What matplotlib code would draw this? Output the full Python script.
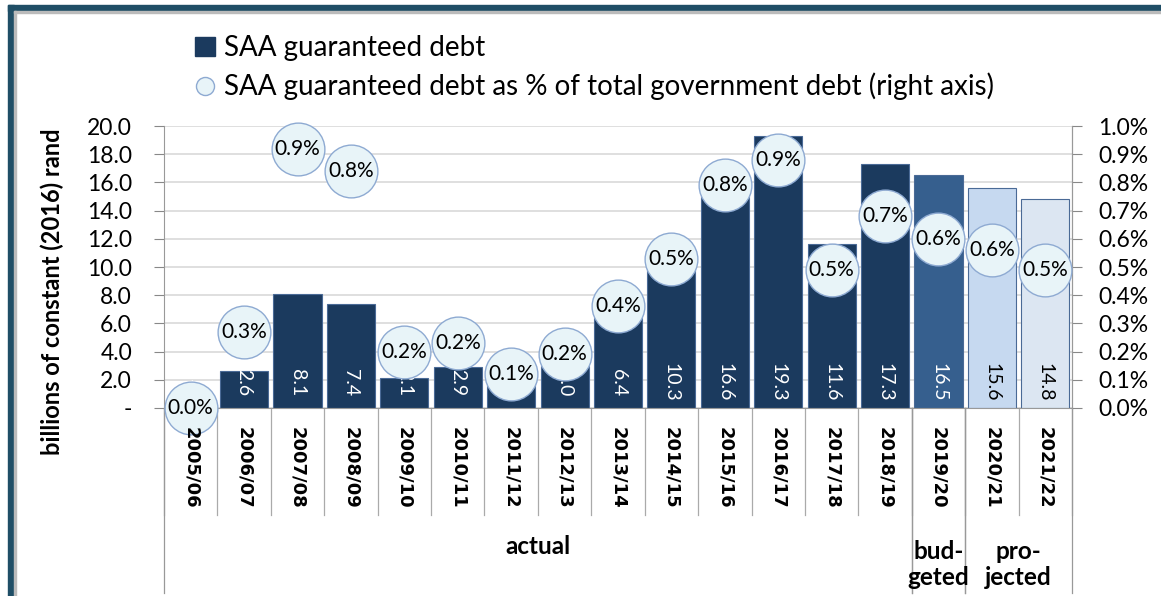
import matplotlib
matplotlib.use("Agg")
import matplotlib.pyplot as plt
from matplotlib.lines import Line2D
from matplotlib.patches import Patch, Rectangle
from matplotlib.ticker import FuncFormatter, MultipleLocator
import matplotlib.transforms as mtransforms

# data
years = ["2005/06", "2006/07", "2007/08", "2008/09", "2009/10", "2010/11",
         "2011/12", "2012/13", "2013/14", "2014/15", "2015/16", "2016/17",
         "2017/18", "2018/19", "2019/20", "2020/21", "2021/22"]
debt_bn = [0.0, 2.6, 8.1, 7.4, 2.1, 2.9, 1.9, 3.0, 6.4, 10.3, 16.6, 19.3,
           11.6, 17.3, 16.5, 15.6, 14.8]
debt_pct = [0.00, 0.27, 0.92, 0.84, 0.20, 0.23, 0.12, 0.19, 0.36, 0.53,
            0.79, 0.88, 0.49, 0.68, 0.60, 0.56, 0.49]
groups = ["actual", "bud-\ngeted", "pro-\njected"]
group_sizes = [14, 1, 2]

NAVY = "#1b3a5e"
BUDGET = "#365f8e"
PROJ1 = "#c6d9f0"
PROJ2 = "#dce6f2"
FRAME = "#1f4e66"

bar_colors = [NAVY] * 14 + [BUDGET, PROJ1, PROJ2]
label_colors = ["white"] * 15 + ["black", "black"]

plt.rcParams["font.family"] = ["Lato", "DejaVu Sans"]

fig = plt.figure(figsize=(11.61, 5.96), dpi=100)
ax = fig.add_axes([164 / 1161, 1 - 408 / 596, 908 / 1161, 282 / 596])

x = list(range(len(years)))
bars = ax.bar(x, debt_bn, width=0.9, color=bar_colors, edgecolor="#4a6a96",
              linewidth=0.8, zorder=2)

for xi, v, c in zip(x, debt_bn, label_colors):
    txt = "-" if v == 0 else f"{v:.1f}"
    ax.text(xi, 1.8, txt, rotation=270, ha="center", va="center",
            color=c, fontsize=14, zorder=3)

ax.set_xlim(-0.5, len(years) - 0.5)
ax.set_ylim(0, 20)
ax.yaxis.set_major_locator(MultipleLocator(2))
ax.yaxis.set_major_formatter(FuncFormatter(lambda v, p: "-" if v == 0 else f"{v:.1f}"))
ax.grid(axis="y", color="#d9d9d9", linewidth=1.2, zorder=0)
ax.set_axisbelow(True)
ax.tick_params(axis="y", labelsize=16.5, length=7, color="#888888", pad=16)
ax.set_xticks(x)
ax.set_xticklabels([])
ax.tick_params(axis="x", length=0)
ax.spines["top"].set_visible(False)
for side in ["left", "right", "bottom"]:
    ax.spines[side].set_color("#999999")

# category separators and group brackets below the axis
trans = mtransforms.blended_transform_factory(ax.transData, ax.transAxes)
for b in range(len(years) + 1):
    ax.plot([b - 0.5, b - 0.5], [0, -0.38], color="#aaaaaa", lw=0.9,
            transform=trans, clip_on=False)
start = -0.5
for name, n in zip(groups, group_sizes):
    end = start + n
    ax.plot([start, start], [0, -0.655], color="#999999", lw=0.9,
            transform=trans, clip_on=False)
    ax.plot([end, end], [0, -0.655], color="#999999", lw=0.9,
            transform=trans, clip_on=False)
    yy = -0.49 if "\n" not in name else -0.555
    ax.text((start + end) / 2, yy, name, transform=trans, ha="center",
            va="center", fontsize=17.5, fontweight="bold", linespacing=1.15)
    start = end

fig.text(52 / 1161, 1 - 292 / 596, "billions of constant (2016) rand",
         rotation=90, ha="center", va="center", fontsize=17, fontweight="bold")

# right axis: share of total government debt
ax2 = ax.twinx()
ax2.set_ylim(0, 1.0)
ax2.yaxis.set_major_locator(MultipleLocator(0.1))
ax2.yaxis.set_major_formatter(FuncFormatter(lambda v, p: f"{v:.1f}%"))
ax2.tick_params(axis="y", labelsize=16.5, length=7, color="#888888", pad=12)
for side in ["top", "left", "bottom"]:
    ax2.spines[side].set_visible(False)
ax2.spines["right"].set_color("#999999")
ax2.plot(x, debt_pct, linestyle="none", marker="o", markersize=38,
         markerfacecolor="#e8f4f8", markeredgecolor="#8eaad2",
         markeredgewidth=1.0, clip_on=False, zorder=4)
for xi, p in zip(x, debt_pct):
    ax2.text(xi, p, f"{p:.1f}%", ha="center", va="center", fontsize=15,
             zorder=5, clip_on=False)

# category labels drawn last so they sit on top of the 0.0% bubble
trans2 = mtransforms.blended_transform_factory(ax2.transData, ax2.transAxes)
for xi, yr in zip(x, years):
    ax2.text(xi, -0.068, yr, transform=trans2, rotation=270, ha="center",
             va="top", fontsize=13, fontweight="bold", family="DejaVu Sans",
             zorder=6, clip_on=False)

# legend
handles = [Patch(facecolor=NAVY, edgecolor=NAVY),
           Line2D([], [], linestyle="none", marker="o", markersize=13,
                  markerfacecolor="#e8f4f8", markeredgecolor="#8eaad2")]
labels = ["SAA guaranteed debt",
          "SAA guaranteed debt as % of total government debt (right axis)"]
fig.legend(handles, labels, loc="upper left",
           bbox_to_anchor=(184 / 1161, 1 - 24 / 596), frameon=False,
           fontsize=20, handlelength=0.7, handleheight=0.7,
           handletextpad=0.35, labelspacing=0.42, borderaxespad=0)

# frame around the figure
fig.patches.append(Rectangle((8 / 1161, 0), 6 / 1161, 1 - 5 / 596,
                             transform=fig.transFigure, color=FRAME))
fig.patches.append(Rectangle((8 / 1161, 1 - 11 / 596), 1, 6 / 596,
                             transform=fig.transFigure, color=FRAME))
fig.patches.append(Rectangle((14 / 1161, 0), 2 / 1161, 1 - 11 / 596,
                             transform=fig.transFigure, color="#bbbbbb"))
fig.patches.append(Rectangle((14 / 1161, 1 - 13 / 596), 1, 2 / 596,
                             transform=fig.transFigure, color="#bbbbbb"))

fig.savefig("out.png", dpi=100)
